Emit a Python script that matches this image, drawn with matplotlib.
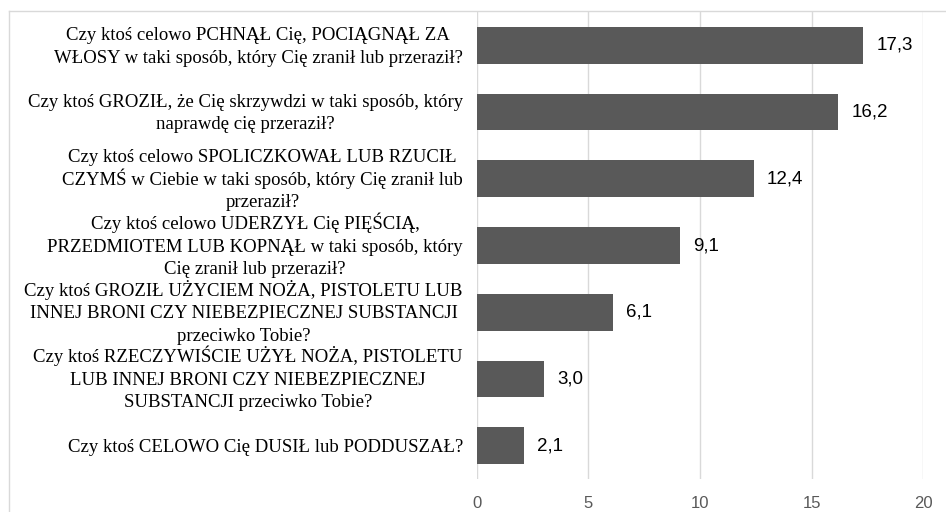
import matplotlib
matplotlib.use('Agg')
import matplotlib.pyplot as plt
from matplotlib.lines import Line2D

# questions, top to bottom
labels = [
    "Czy ktoś celowo PCHNĄŁ Cię, POCIĄGNĄŁ ZA\nWŁOSY w taki sposób, który Cię zranił lub przeraził?",
    "Czy ktoś GROZIŁ, że Cię skrzywdzi w taki sposób, który\nnaprawdę cię przeraził?",
    "Czy ktoś celowo SPOLICZKOWAŁ LUB RZUCIŁ\nCZYMŚ w Ciebie w taki sposób, który Cię zranił lub\nprzeraził?",
    "Czy ktoś celowo UDERZYŁ Cię PIĘŚCIĄ,\nPRZEDMIOTEM LUB KOPNĄŁ w taki sposób, który\nCię zranił lub przeraził?",
    "Czy ktoś GROZIŁ UŻYCIEM NOŻA, PISTOLETU LUB\nINNEJ BRONI CZY NIEBEZPIECZNEJ SUBSTANCJI\nprzeciwko Tobie?",
    "Czy ktoś RZECZYWIŚCIE UŻYŁ NOŻA, PISTOLETU\nLUB INNEJ BRONI CZY NIEBEZPIECZNEJ\nSUBSTANCJI przeciwko Tobie?",
    "Czy ktoś CELOWO Cię DUSIŁ lub PODDUSZAŁ?",
]
values = [17.3, 16.2, 12.4, 9.1, 6.1, 3.0, 2.1]
xticks = [0, 5, 10, 15, 20]

fig = plt.figure(figsize=(9.46, 5.12), dpi=100)
ax = fig.add_axes([0.504, 0.0645, 0.472, 0.912])

pos = list(range(len(values)))
ax.barh(pos, values, height=0.55, color='#595959', zorder=3)
ax.set_ylim(len(values) - 0.5, -0.5)
ax.set_xlim(0, 20)

# value labels with decimal comma
for p, v in zip(pos, values):
    ax.text(v + 0.6, p, ('%.1f' % v).replace('.', ','), va='center', ha='left',
            fontsize=13.5, family='Liberation Sans', color='black')

ax.set_xticks(xticks)
ax.set_xticklabels([str(t) for t in xticks], fontsize=12, family='Liberation Sans', color='#595959')
ax.set_yticks(pos)
ax.set_yticklabels([])
ax.tick_params(axis='y', length=0)
ax.tick_params(axis='x', length=0, pad=12)

# category labels: one text per line so the line pitch stays even
lab_font = dict(fontsize=13.5, family='Liberation Serif', color='black')
pad = 14        # px between label block and axis
pitch = 22.5    # px between baselines
r = fig.canvas.get_renderer()
ytr = ax.get_yaxis_transform()
for p, lab in zip(pos, labels):
    lines = lab.split('\n')
    widths = []
    for ln in lines:
        t = fig.text(0, 0, ln, **lab_font)
        widths.append(t.get_window_extent(r).width)
        t.remove()
    cx = -(pad + max(widths) / 2)
    n = len(lines)
    for i, ln in enumerate(lines):
        dy = -(i - (n - 1) / 2) * pitch - 6
        ax.annotate(ln, xy=(0, p), xycoords=ytr, xytext=(cx, dy), textcoords='offset pixels',
                    ha='center', va='baseline', annotation_clip=False, **lab_font)

ax.grid(axis='x', color='#d9d9d9', linewidth=1, zorder=0)
for s in ax.spines.values():
    s.set_visible(False)

# chart area border (cropped, only top and left visible)
fig.add_artist(Line2D([9 / 946, 1], [1 - 11 / 512, 1 - 11 / 512], color='#d9d9d9', lw=1,
                      transform=fig.transFigure))
fig.add_artist(Line2D([9 / 946, 9 / 946], [0, 1 - 11 / 512], color='#d9d9d9', lw=1,
                      transform=fig.transFigure))

plt.savefig('out.png')
